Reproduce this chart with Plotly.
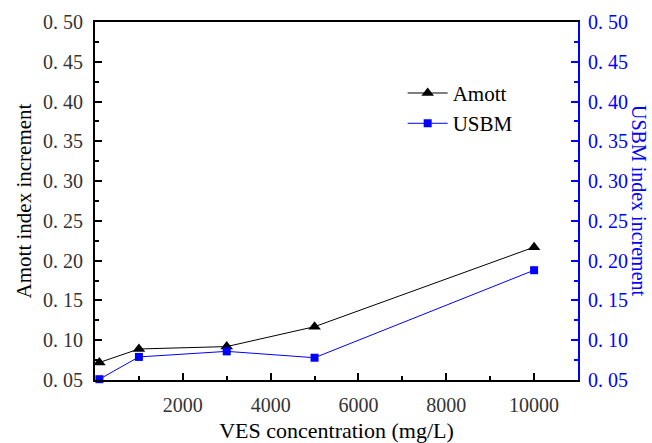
import plotly.graph_objects as go

concentration = [100, 1000, 3000, 5000, 10000]
amott = [0.072, 0.089, 0.092, 0.117, 0.217]
usbm = [0.051, 0.079, 0.086, 0.078, 0.188]

ytick_vals = [0.05, 0.10, 0.15, 0.20, 0.25, 0.30, 0.35, 0.40, 0.45, 0.50]
ytick_text = ["0. 05", "0. 10", "0. 15", "0. 20", "0. 25", "0. 30", "0. 35", "0. 40", "0. 45", "0. 50"]
xtick_vals = [2000, 4000, 6000, 8000, 10000]
xtick_text = ["2000", "4000", "6000", "8000", "10000"]

FONT = "Liberation Serif, Times New Roman, serif"
BLUE = "#0000ff"
GREY = "#333333"

fig = go.Figure()
fig.add_trace(go.Scatter(
    x=concentration, y=amott, name="Amott", mode="lines+markers",
    line=dict(color="black", width=1),
    marker=dict(symbol="triangle-up", size=11, color="black"),
    cliponaxis=False,
))
fig.add_trace(go.Scatter(
    x=concentration, y=usbm, name="USBM", mode="lines+markers", yaxis="y2",
    line=dict(color=BLUE, width=1),
    marker=dict(symbol="square", size=8, color=BLUE),
    cliponaxis=False,
))

fig.update_layout(
    width=652, height=443,
    margin=dict(l=95, r=74, t=22, b=63),
    paper_bgcolor="white", plot_bgcolor="white",
    font=dict(family=FONT, size=20, color=GREY),
    showlegend=True,
    legend=dict(x=0.637, y=0.858, xanchor="left", yanchor="top",
                bgcolor="rgba(0,0,0,0)", font=dict(family=FONT, size=21, color="black"),
                tracegroupgap=0, itemwidth=40),
    xaxis=dict(
        range=[0, 11000], showgrid=False, zeroline=False, automargin=False,
        showline=True, linecolor="black", linewidth=2, mirror=True,
        ticks="inside", ticklen=7, tickwidth=1.5, tickcolor="black",
        tickvals=xtick_vals, ticktext=xtick_text,
        minor=dict(ticks="inside", ticklen=4, tickwidth=1.5, tickcolor="black", dtick=1000, tick0=0),
        tickfont=dict(family=FONT, size=20, color=GREY),
        ticklabelstandoff=6,
        title=dict(text="VES concentration (mg/L)", font=dict(family=FONT, size=22, color="black"), standoff=9),
    ),
    yaxis=dict(
        range=[0.05, 0.50], showgrid=False, zeroline=False, automargin=False,
        showline=True, linecolor="black", linewidth=2,
        ticks="inside", ticklen=7, tickwidth=1.5, tickcolor="black",
        tickvals=ytick_vals, ticktext=ytick_text,
        minor=dict(ticks="inside", ticklen=4, tickwidth=1.5, tickcolor="black", dtick=0.025, tick0=0.05),
        tickfont=dict(family=FONT, size=20, color=GREY),
        ticklabelstandoff=6,
        title=dict(text="Amott index increment", font=dict(family=FONT, size=21, color="black"), standoff=6),
    ),
    yaxis2=dict(
        range=[0.05, 0.50], overlaying="y", side="right", anchor="x", automargin=False,
        showgrid=False, zeroline=False,
        showline=True, linecolor=BLUE, linewidth=2,
        ticks="inside", ticklen=7, tickwidth=1.5, tickcolor=BLUE,
        tickvals=ytick_vals, ticktext=ytick_text,
        minor=dict(ticks="inside", ticklen=4, tickwidth=1.5, tickcolor=BLUE, dtick=0.025, tick0=0.05),
        tickfont=dict(family=FONT, size=20, color=BLUE),
        ticklabelstandoff=4,
    ),
    annotations=[dict(
        text="USBM index increment", textangle=90,
        xref="paper", yref="paper", x=1.0, y=0.5,
        xanchor="center", yanchor="middle", xshift=61,
        showarrow=False, font=dict(family=FONT, size=20, color=BLUE),
    )],
)

fig.write_html("out.html", config={"displayModeBar": False},
               post_script="document.body.style.margin='0';document.body.style.padding='0';")
